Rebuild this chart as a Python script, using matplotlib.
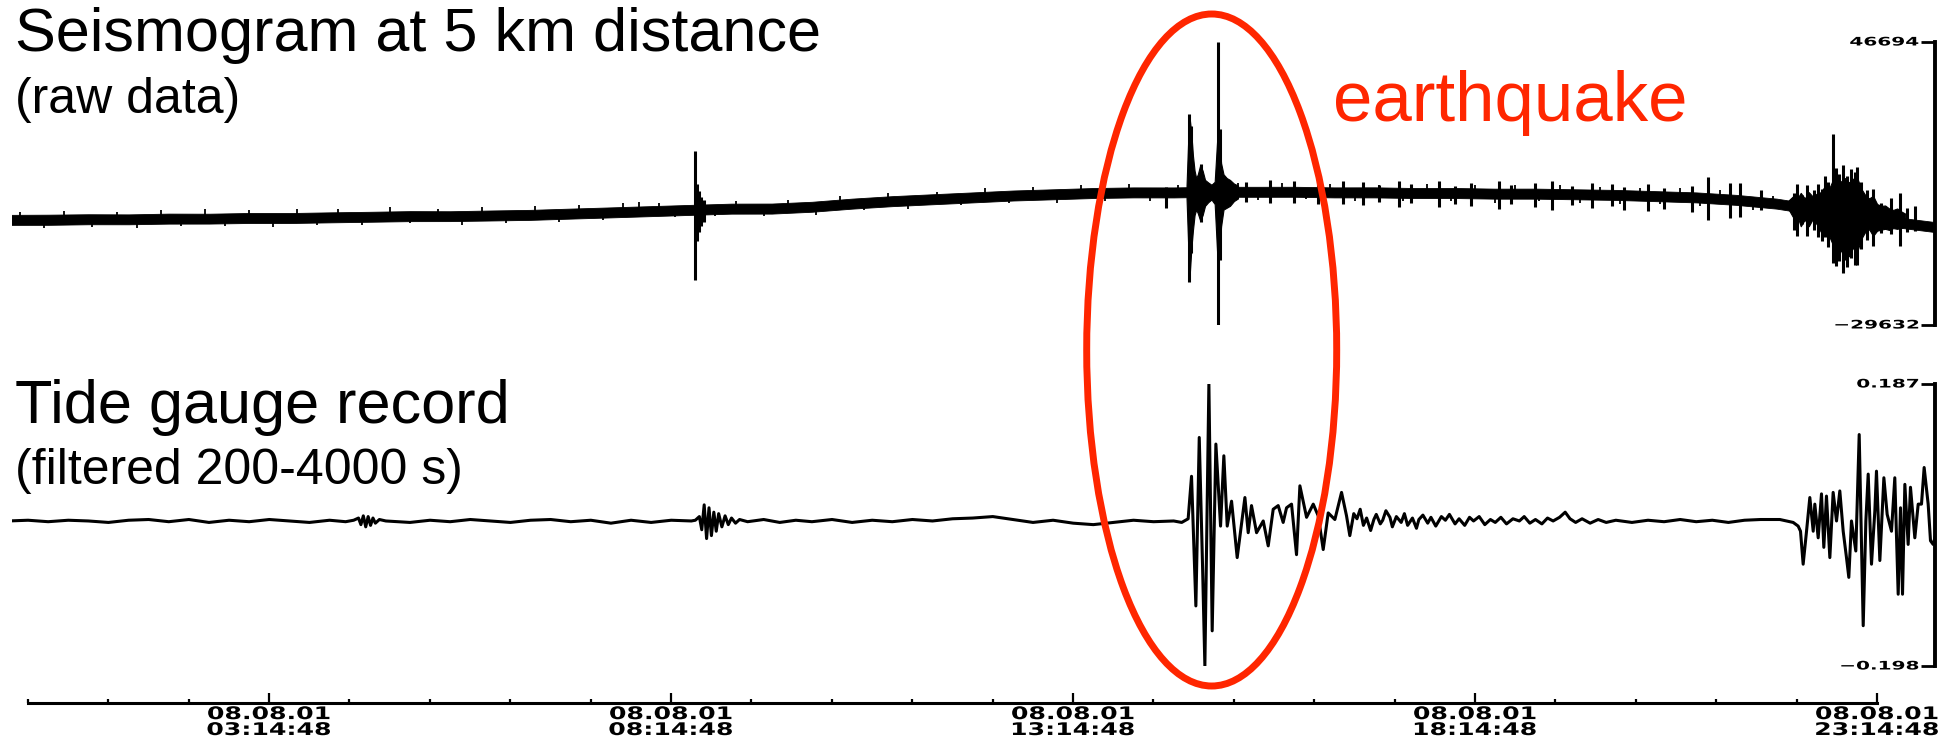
import numpy as np
import matplotlib
matplotlib.use("Agg")
import matplotlib.pyplot as plt
from matplotlib.patches import Ellipse
from matplotlib.transforms import Affine2D, offset_copy
from matplotlib import patheffects

# ---- seismogram (counts), hours after midnight 08.08.01 ----
seis_limits = (-29632, 46694)

# slowly drifting noise band, upper and lower edge every half hour
band_hours = np.arange(0.0, 24.01, 0.5)
band_top = [70, 120, 240, 200, 410, 380, 580, 560, 750, 900,
            1080, 1050, 1250, 1420, 1760, 2090, 2430, 2770, 3100, 3120,
            3600, 4450, 5120, 5630, 6130, 6640, 6970, 7310, 7480, 7470,
            7650, 7640, 7650, 7480, 7500, 7310, 7320, 7140, 7150, 6970,
            6800, 6470, 6130, 5460, 4450, 2770, 750, -600, -1950]
band_bottom = [-2630, -2620, -2460, -2470, -2290, -2280, -2120, -2130, -1950, -1790,
               -1620, -1610, -1450, -1280, -940, -610, -270, 70, 400, 410,
               910, 1750, 2420, 2930, 3430, 3940, 4270, 4610, 4780, 4770,
               4950, 4940, 4950, 4780, 4780, 4610, 4610, 4440, 4440, 4270,
               4100, 3770, 3430, 2760, 1750, 70, -1950, -3300, -4650]

# small flickers poking out of the band: time, maximum, minimum
flick_hours = [0.15, 0.45, 0.7, 1.05, 1.35, 1.6, 1.9, 2.15, 2.45, 2.7,
               3.0, 3.3, 3.6, 3.85, 4.1, 4.4, 4.75, 5.0, 5.35, 5.65,
               5.9, 6.2, 6.55, 6.85, 7.1, 7.4, 7.65, 7.85, 8.1, 8.3,
               8.8, 9.05, 9.4, 9.7, 10.05, 10.35, 10.65, 10.95, 11.2, 11.55,
               11.85, 12.15, 12.45, 12.75, 13.05, 13.35, 13.65, 13.95, 14.2, 14.55,
               15.3, 15.55, 15.85, 16.15, 16.45, 16.75, 17.05, 17.35, 17.65, 17.95,
               18.25, 18.5, 18.75, 19.05, 19.3, 19.55, 19.8, 20.05, 20.3, 20.55,
               20.8, 21.05, 21.3, 21.7, 21.95]
flick_top = [770, -1227, 1160, -1058, 820, -1058, 1280, -890, 1580, -800,
             1280, -721, 1560, -600, 1580, -420, 2080, -217, 1750, -170,
             2150, 20, 2450, 350, 2720, 730, 3300, 3650, 3400, 1330,
             1670, 3900, 1800, 4100, 2390, 5200, 3350, 5900, 4020, 6350,
             4680, 7200, 5290, 7700, 5700, 8050, 6060, 8450, 6177, 8200,
             8550, 6346, 8750, 6300, 8400, 6177, 8200, 6060, 8300, 6009,
             8100, 5840, 8050, 5820, 8000, 5650, 7600, 5470, 7300, 5130,
             7200, 4760, 6750, 3750, 5200]
flick_bottom = [-1227, -3530, -1140, -3160, -1058, -3570, -925, -2890, -890, -3000,
                -721, -3130, -700, -2650, -520, -2700, -300, -2220, -217, -2610,
                -80, -2150, 150, -1760, 520, -1350, 900, 1030, 1200, -500,
                -300, 1800, -300, 2000, 100, 2900, 1300, 3750, 1700, 4380,
                2650, 4980, 3250, 5500, 3350, 5900, 3900, 6160, 3870, 6177,
                6346, 4150, 6346, 4250, 6200, 3780, 6177, 3800, 6009, 3700,
                5920, 3340, 5840, 3700, 5740, 3350, 5570, 3080, 5300, 2950,
                4970, 2450, 4430, 1250, 3250]

# dense wave trains: main shock and late-evening burst
quake_hours = [14.66, 14.68, 14.70, 14.72, 14.74, 14.76, 14.78, 14.80, 14.83, 14.86,
               14.89, 14.93, 14.97, 15.01, 15.04, 15.06, 15.09, 15.12, 15.16, 15.20,
               15.25, 15.30]
quake_top = [8000, 20000, 26000, 22000, 16000, 12000, 10000, 11000, 13500, 12000,
             9500, 8800, 8200, 9000, 20000, 23000, 14000, 11000, 10000, 9500,
             8500, 8000]
quake_bottom = [4500, -8000, -16000, -9000, -4000, 0, 1500, 500, -1500, 0,
                2500, 3500, 4200, 3000, -10000, -12000, -3000, 1500, 2000, 2500,
                3800, 4500]

burst_hours = [22.15, 22.20, 22.25, 22.30, 22.35, 22.40, 22.45, 22.50, 22.55, 22.60,
               22.65, 22.70, 22.75, 22.80, 22.85, 22.90, 22.95, 23.00, 23.05, 23.10,
               23.15, 23.20, 23.25, 23.30, 23.35, 23.40, 23.45, 23.50, 23.55, 23.60]
burst_top = [4000, 5000, 4200, 6000, 4500, 6200, 5000, 5800, 6200, 7800,
             7000, 9500, 10500, 9000, 10000, 8800, 9800, 10200, 7200, 5500,
             4500, 5200, 3000, 2500, 2600, 1800, 1400, 1800, 1000, 400]
burst_bottom = [1500, -400, 200, -3000, -1200, -3000, -1000, -2500, -4500, -3500,
                -5500, -8000, -10500, -9500, -12000, -11000, -8800, -10000, -6500, -4600,
                -3800, -5600, -4200, -3900, -3700, -4000, -3500, -3700, -3400, -3100]

# single spikes: time, maximum, minimum
spike_hours = [8.55, 8.57, 8.59, 8.62, 8.66,
               14.41, 14.69, 14.71, 14.84,
               15.05, 15.07,
               15.4, 15.7, 16.0, 16.3, 16.6,
               16.85, 17.05, 17.3, 17.45, 17.8, 18.0, 18.2, 18.55, 18.7, 19.0,
               19.2, 19.45, 19.7, 19.95, 20.1, 20.4, 20.6, 20.95, 21.15, 21.42,
               21.55, 21.8,
               22.21, 22.25, 22.32, 22.38, 22.47, 22.52, 22.56, 22.60, 22.64, 22.70,
               22.74, 22.78, 22.83, 22.88, 22.93, 22.97, 23.00, 23.05, 23.12, 23.20,
               23.30, 23.42, 23.53, 23.62, 23.72]
spike_top = [17300, 8500, 6500, 4800, 4000,
             7500, 27200, 24000, 13700,
             46694, 23100,
             9000, 9500, 9300, 9600, 9200,
             8900, 8200, 9300, 8500, 9100, 7900, 8800, 9300, 8000, 8700,
             9200, 7800, 8600, 8300, 7600, 8400, 7300, 7800, 10400, 8800,
             8800, 6900,
             6000, 8300, 5500, 8000, 6800, 8500, 7000, 10500, 9000, 21800,
             12800, 11000, 13500, 10500, 12500, 11500, 13000, 9000, 6900, 7000,
             3300, 4500, 6000, 2000, 2400]
spike_bottom = [-17400, -7000, -4500, -2800, -1800,
                2000, -18000, -10100, -1800,
                -29632, -12000,
                3500, 3200, 3300, 3100, 3000,
                2800, 3600, 2300, 3300, 2100, 2900, 2500, 1700, 3000, 2200,
                1500, 2700, 1900, 2400, 1400, 1100, 1700, 800, -1200, -700,
                -400, 1466,
                -3900, -5700, -2500, -5500, -4000, -6000, -7100, -6000, -8500, -12900,
                -13800, -12500, -15500, -14000, -11500, -13500, -13500, -9000, -6600, -8400,
                -4800, -5000, -8400, -4500, -4200]

# ---- tide gauge, filtered 200-4000 s (m) ----
tide_limits = (-0.198, 0.187)
tide_hours = [0.0, 0.25, 0.5, 0.75, 1.0, 1.25, 1.5, 1.75, 2.0, 2.25,
              2.5, 2.75, 3.0, 3.25, 3.5, 3.75, 4.0, 4.2,
              4.30, 4.36, 4.39, 4.42, 4.45, 4.48, 4.51, 4.54, 4.57, 4.62, 4.7,
              5.0, 5.25, 5.5, 5.75, 6.0, 6.25, 6.5, 6.75, 7.0, 7.25,
              7.5, 7.75, 8.0, 8.25, 8.5,
              8.55, 8.60, 8.63, 8.66, 8.69, 8.72, 8.75, 8.78, 8.81, 8.84,
              8.88, 8.92, 8.96, 9.00, 9.05, 9.10, 9.2,
              9.4, 9.6, 9.8, 10.0, 10.25, 10.5, 10.75, 11.0, 11.25, 11.5,
              11.75, 12.0, 12.25, 12.5, 12.75, 13.0, 13.25, 13.5, 13.75, 14.0,
              14.25, 14.5, 14.6, 14.68,
              14.722, 14.776, 14.818, 14.859, 14.888, 14.938, 14.979, 15.025, 15.083, 15.124,
              15.166, 15.220, 15.290, 15.386, 15.427, 15.468, 15.531, 15.614, 15.676, 15.738,
              15.800, 15.862, 15.904, 15.966, 16.028, 16.070, 16.153, 16.236, 16.298, 16.360,
              16.422, 16.505, 16.588, 16.650, 16.691,
              16.74, 16.78, 16.82, 16.86, 16.90, 16.95, 16.99, 17.02, 17.07, 17.10,
              17.14, 17.19, 17.22, 17.27, 17.33, 17.37, 17.41, 17.47, 17.52, 17.55,
              17.60, 17.66, 17.70, 17.76, 17.83, 17.88, 17.93, 18.00, 18.05, 18.12,
              18.18, 18.23, 18.30, 18.37, 18.44, 18.50, 18.57, 18.64, 18.72, 18.80,
              18.86, 18.93, 19.00, 19.08, 19.15, 19.22, 19.30, 19.37, 19.43, 19.50,
              19.58, 19.68, 19.78, 19.88, 20.0, 20.2,
              20.4, 20.6, 20.8, 21.0, 21.2, 21.4, 21.6, 21.8, 22.0,
              22.040, 22.123, 22.206, 22.268, 22.297, 22.330, 22.372, 22.413, 22.455, 22.475,
              22.517, 22.558, 22.587, 22.620, 22.662, 22.703, 22.745, 22.786, 22.828, 22.869,
              22.898, 22.931, 22.985, 23.027, 23.077, 23.110, 23.139, 23.180, 23.222, 23.242,
              23.284, 23.334, 23.375, 23.429, 23.470, 23.512, 23.541, 23.566, 23.595, 23.636,
              23.665, 23.719, 23.761, 23.802, 23.835, 23.885, 23.914, 23.947, 23.968]
tide_level = [0.000, 0.001, -0.001, 0.001, 0.000, -0.002, 0.001, 0.002, -0.001, 0.002,
              -0.002, 0.001, -0.001, 0.002, 0.000, -0.002, 0.001, -0.001,
              0.001, 0.004, -0.005, 0.007, -0.008, 0.006, -0.006, 0.004, -0.003, 0.002, 0.000,
              -0.002, 0.001, -0.001, 0.002, 0.000, -0.002, 0.001, 0.002, -0.001, 0.001,
              -0.003, 0.001, -0.002, 0.001, 0.000,
              0.001, 0.006, -0.012, 0.022, -0.024, 0.018, -0.020, 0.012, -0.014, 0.010,
              -0.008, 0.007, -0.005, 0.004, -0.003, 0.002, -0.001,
              0.002, -0.002, 0.001, -0.001, 0.002, -0.002, 0.001, -0.001, 0.002, 0.000,
              0.003, 0.004, 0.006, 0.002, -0.002, 0.001, -0.003, -0.005, -0.002, 0.001,
              -0.001, 0.000, -0.002, 0.003,
              0.061, -0.116, 0.114, -0.061, -0.198, 0.187, -0.150, 0.105, -0.007, 0.089,
              -0.007, 0.027, -0.050, 0.032, -0.016, 0.021, -0.016, 0.000, -0.034, 0.016,
              0.021, -0.002, 0.018, 0.023, -0.046, 0.048, 0.005, 0.023, 0.007, -0.039,
              0.011, 0.002, 0.039, 0.007, -0.020,
              0.010, 0.003, 0.016, -0.006, 0.004, -0.013, 0.002, 0.009, -0.004, 0.001,
              0.014, 0.005, -0.008, 0.006, -0.002, 0.010, -0.006, 0.004, -0.010, 0.002,
              0.008, -0.003, 0.005, -0.007, 0.006, 0.001, 0.009, -0.004, 0.003, -0.006,
              0.005, 0.000, 0.006, -0.005, 0.002, -0.002, 0.005, -0.004, 0.003, 0.000,
              0.006, -0.003, 0.002, -0.004, 0.004, 0.000, 0.005, 0.012, 0.003, -0.002,
              0.003, -0.003, 0.002, -0.002, 0.001, -0.002,
              0.001, -0.001, 0.002, -0.001, 0.001, -0.002, 0.001, 0.002, 0.002,
              0.002, 0.000, -0.002, -0.007, -0.014, -0.059, -0.014, 0.032, -0.014, 0.023,
              -0.023, 0.037, -0.036, 0.034, -0.050, 0.039, 0.000, 0.041, -0.014, -0.050,
              -0.077, 0.000, -0.041, 0.118, -0.143, 0.000, 0.064, -0.059, 0.014, 0.068,
              -0.054, 0.059, 0.009, -0.014, 0.059, -0.100, 0.018, -0.100, 0.050, -0.032,
              0.046, -0.023, 0.023, 0.023, 0.073, 0.023, -0.027, -0.032, -0.023]

# ---- time axis ----
time_range = (0.2467, 23.2467)           # 00:14:48 .. 23:14:48
major_hours = [3.2467, 8.2467, 13.2467, 18.2467, 23.2467]
minor_hours = np.arange(0.2467, 23.25, 1.0)
time_labels = ["08.08.01\n03:14:48", "08.08.01\n08:14:48", "08.08.01\n13:14:48",
               "08.08.01\n18:14:48", "08.08.01\n23:14:48"]

RED = "#ff2600"
W, H = 1949, 744


class HStretch(patheffects.AbstractPathEffect):
    """Widen text glyphs horizontally about the left, centre or right edge."""

    def __init__(self, sx, anchor="center"):
        super().__init__()
        self.sx = sx
        self.anchor = anchor

    def draw_path(self, renderer, gc, tpath, affine, rgbFace=None):
        ext = tpath.get_extents()
        x0 = {"left": ext.x0, "center": 0.5 * (ext.x0 + ext.x1), "right": ext.x1}[self.anchor]
        stretch = Affine2D().translate(-x0, 0).scale(self.sx, 1.0).translate(x0, 0)
        renderer.draw_path(gc, tpath, stretch + affine, rgbFace)


def box(x0, y_top, x1, y_bot):
    return [x0 / W, 1 - y_bot / H, (x1 - x0) / W, (y_bot - y_top) / H]


def style_trace(ax, limits, labels):
    ax.set_xlim(0.05, 23.97)
    ax.set_ylim(*limits)
    ax.patch.set_visible(False)
    for side in ("left", "top", "bottom"):
        ax.spines[side].set_visible(False)
    ax.spines["right"].set_linewidth(2.8)
    ax.set_xticks([])
    ax.yaxis.tick_right()
    ax.set_yticks(list(limits))
    ax.tick_params(axis="y", direction="in", length=10, width=2, labelright=False)
    trans = offset_copy(ax.get_yaxis_transform(), fig=ax.figure, x=-16, y=0, units="dots")
    for val, lab in zip(limits, labels):
        ax.text(1.0, val, lab, transform=trans, ha="right", va="center",
                fontsize=8.5, fontweight="bold", family="DejaVu Sans",
                path_effects=[HStretch(1.7, "right")])


fig = plt.figure(figsize=(W / 100, H / 100), dpi=100)

# seismogram
ax_s = fig.add_axes(box(12, 42, 1935, 325))
ax_s.fill_between(band_hours, band_bottom, band_top, color="black", lw=0.6)
ax_s.fill_between(quake_hours, quake_bottom, quake_top, color="black", lw=0.8)
ax_s.fill_between(burst_hours, burst_bottom, burst_top, color="black", lw=0.8)
ax_s.vlines(flick_hours, flick_bottom, flick_top, color="black", lw=1.3)
ax_s.vlines(spike_hours, spike_bottom, spike_top, color="black", lw=2.2)
style_trace(ax_s, seis_limits, ["\u221229632", "46694"])

# tide gauge
ax_t = fig.add_axes(box(12, 384, 1935, 666))
ax_t.plot(tide_hours, tide_level, color="black", lw=2.2)
style_trace(ax_t, tide_limits, ["\u22120.198", "0.187"])

# time axis
ax_x = fig.add_axes(box(27.8, 690, 1877, 703))
ax_x.set_xlim(*time_range)
ax_x.patch.set_visible(False)
for side in ("left", "top", "right"):
    ax_x.spines[side].set_visible(False)
ax_x.spines["bottom"].set_linewidth(2.2)
ax_x.set_yticks([])
ax_x.set_xticks(major_hours, labels=time_labels)
ax_x.set_xticks(minor_hours, minor=True)
ax_x.tick_params(axis="x", which="major", direction="in", length=7, width=1.6, pad=1.5)
ax_x.tick_params(axis="x", which="minor", direction="in", length=3, width=1.6)
for lab in ax_x.get_xticklabels():
    lab.set_fontfamily("DejaVu Sans")
    lab.set_fontweight("bold")
    lab.set_fontsize(12.5)
    lab.set_linespacing(0.85)
    lab.set_path_effects([HStretch(1.45, "center")])

# titles
title_font = dict(family="Liberation Sans", va="baseline", ha="left")
fig.text(15 / W, 1 - 51 / H, "Seismogram at 5 km distance", fontsize=44, **title_font)
fig.text(15 / W, 1 - 113 / H, "(raw data)", fontsize=36, **title_font)
fig.text(15 / W, 1 - 423 / H, "Tide gauge record", fontsize=44, **title_font)
fig.text(15 / W, 1 - 484 / H, "(filtered 200-4000 s)", fontsize=36, **title_font)
fig.text(1333 / W, 1 - 121 / H, "earthquake", fontsize=51, color=RED, **title_font)

# ring round the event
fig.add_artist(Ellipse((1211.7 / W, 1 - 350 / H), 250 / W, 672 / H,
                       transform=fig.transFigure, fill=False, edgecolor=RED, lw=5))

fig.savefig("out.png", dpi=100)
